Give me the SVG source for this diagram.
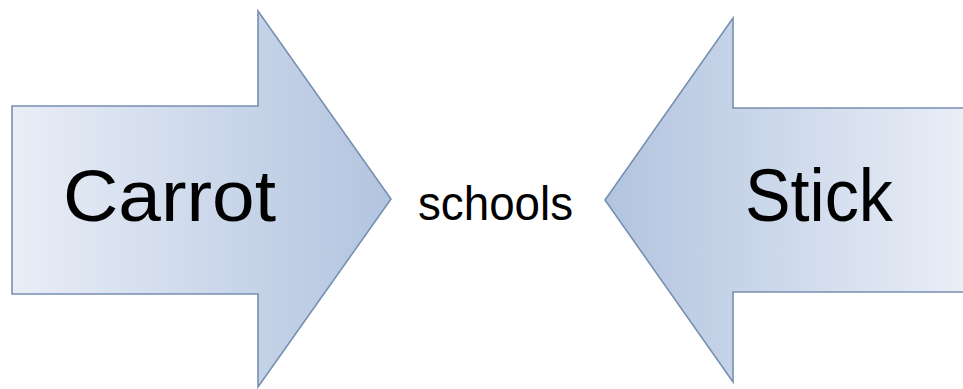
<svg xmlns="http://www.w3.org/2000/svg" width="963" height="389" viewBox="0 0 963 389">
  <defs>
    <linearGradient id="gradRight" gradientUnits="userSpaceOnUse" x1="12" y1="0" x2="391" y2="0">
      <stop offset="0" stop-color="#e9eef7"/>
      <stop offset="1" stop-color="#b2c4df"/>
    </linearGradient>
    <linearGradient id="gradLeft" gradientUnits="userSpaceOnUse" x1="963" y1="0" x2="605" y2="0">
      <stop offset="0" stop-color="#e9eef7"/>
      <stop offset="1" stop-color="#b2c4df"/>
    </linearGradient>
    <style>
      .arrow { stroke: #7790b0; stroke-width: 1.6; stroke-linejoin: miter; }
      .label { font-family: "Century Gothic", "URW Gothic", "Liberation Sans", sans-serif; fill: #000; }
    </style>
  </defs>

  <g id="carrot">
    <polygon class="arrow" fill="url(#gradRight)" points="12,106 258,106 258,11 391,199 258,387 258,294 12,294"/>
    <text class="label" x="63" y="221" font-size="73" textLength="213" lengthAdjust="spacingAndGlyphs">Carrot</text>
  </g>

  <g id="schools">
    <text class="label" x="418" y="220" font-size="48" textLength="155" lengthAdjust="spacingAndGlyphs">schools</text>
  </g>

  <g id="stick">
    <polygon class="arrow" fill="url(#gradLeft)" points="964,108 733,108 733,18 605,200 733,382 733,292 964,292"/>
    <text class="label" x="745" y="221" font-size="74" textLength="148" lengthAdjust="spacingAndGlyphs">Stick</text>
  </g>

  <g id="connectors"/>
</svg>
